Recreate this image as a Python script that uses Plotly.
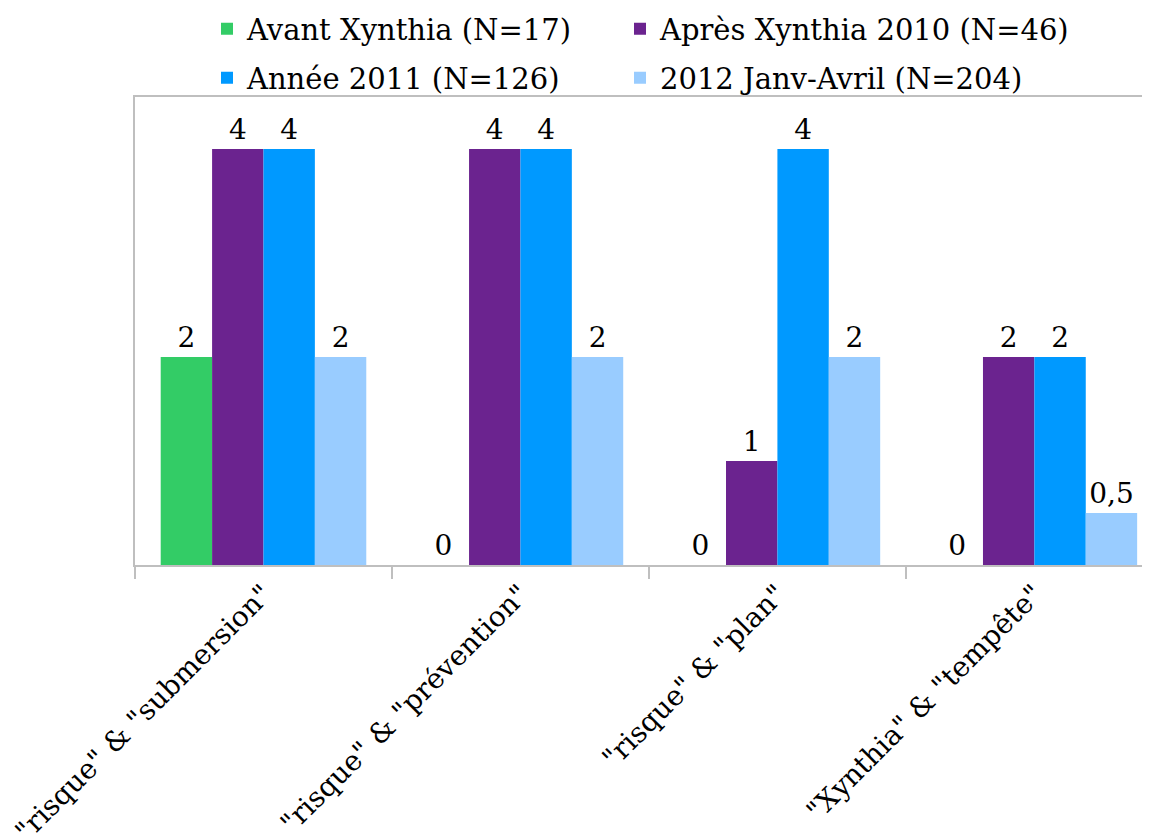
import plotly.graph_objects as go

categories = ['"risque" & "submersion"', '"risque" & "prévention"', '"risque" & "plan"', '"Xynthia" & "tempête"']
series_names = ["Avant Xynthia (N=17)", "Après Xynthia 2010 (N=46)", "Année 2011 (N=126)", "2012 Janv-Avril (N=204)"]
avant = [2, 0, 0, 0]
apres_2010 = [4, 4, 1, 2]
annee_2011 = [4, 4, 4, 2]
janv_avril_2012 = [2, 2, 2, 0.5]

colors = ["#33CC66", "#6B238F", "#0099FF", "#99CCFF"]
values = [avant, apres_2010, annee_2011, janv_avril_2012]

FONT = "DejaVu Serif"
OFF = 8  # page body margin
W, H = 1150 - OFF, 838 - OFF

# legend slots: (left x of legend box, row centre y) in page pixels
legend_ids = ["legend", "legend2", "legend3", "legend4"]
legend_pos = [(207, 29), (620, 29), (207, 78), (620, 78)]

fig = go.Figure()
for name, vals, col, lg in zip(series_names, values, colors, legend_ids):
    fig.add_trace(go.Bar(
        x=categories, y=vals, name=name, marker=dict(color=col, line=dict(width=0)),
        texttemplate="%{y}", textposition="outside", constraintext="none",
        cliponaxis=False, textfont=dict(family=FONT, size=28, color="black"),
        legend=lg,
    ))

legend_layout = {}
for lg, (lx, ly) in zip(legend_ids, legend_pos):
    legend_layout[lg] = dict(orientation="h", xref="container", yref="container",
                             x=(lx - OFF) / W, xanchor="left",
                             y=1 - (ly - OFF) / H, yanchor="middle",
                             bgcolor="rgba(0,0,0,0)",
                             font=dict(family=FONT, size=29, color="black"))

fig.update_layout(
    width=W, height=H,
    paper_bgcolor="white", plot_bgcolor="white",
    margin=dict(l=135 - OFF, r=0, t=97 - OFF, b=838 - 565, autoexpand=False),
    barmode="group", bargap=0.2, bargroupgap=0,
    separators=", ",
    font=dict(family=FONT, size=27, color="black"),
    showlegend=True,
    **legend_layout,
)
fig.update_xaxes(
    type="category", range=[-0.5, 3.45], showline=True, linecolor="#BFBFBF", linewidth=1.5,
    mirror=True, ticks="outside", tickson="boundaries", ticklen=12, tickcolor="#BFBFBF",
    tickwidth=1.5, tickangle=-45, showgrid=False, automargin=False,
    tickfont=dict(family=FONT, size=28, color="black"),
)
fig.update_yaxes(
    range=[0, 4.5], showline=True, linecolor="#BFBFBF", linewidth=1.5, mirror=False,
    showticklabels=False, ticks="", showgrid=False, zeroline=False, automargin=False,
)

fig.write_html("out.html")
